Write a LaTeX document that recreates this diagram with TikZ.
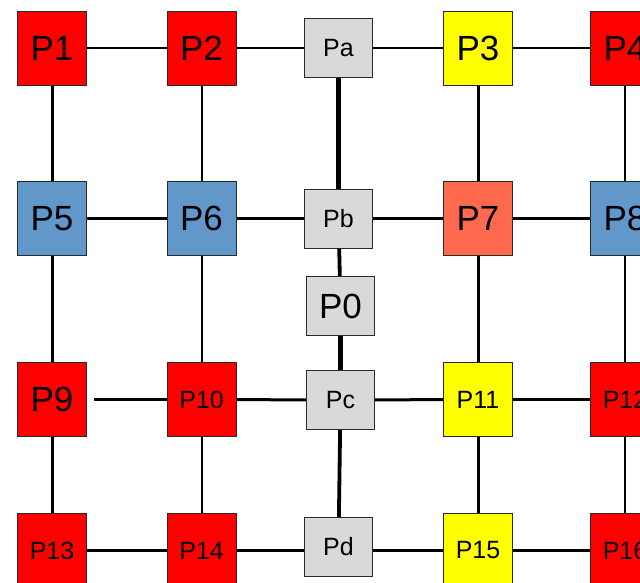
\documentclass[tikz,border=0pt]{standalone}
\usepackage{fontspec}
\setmainfont{Liberation Sans}
\definecolor{pred}{HTML}{FF0000}
\definecolor{pblue}{HTML}{6297CA}
\definecolor{pyellow}{HTML}{FFFF00}
\definecolor{psalmon}{HTML}{FF6A4E}
\definecolor{pgray}{HTML}{D9D9D9}
\definecolor{pborder}{HTML}{2A2A2A}
\tikzset{
  box/.style={draw=pborder, line width=1pt, inner sep=0pt, minimum width=69pt, minimum height=74pt, text=black},
  gbox/.style={draw=pborder, line width=1pt, inner sep=0pt, minimum width=68pt, minimum height=59pt, fill=pgray, text=black},
  big/.style={font=\fontsize{35}{40}\selectfont},
  small/.style={font=\fontsize{25}{29}\selectfont},
  thin/.style={line width=2pt},
  thick/.style={line width=3pt},
  heavy/.style={line width=4.5pt},
  heavyb/.style={line width=3.8pt},
}
\begin{document}
\begin{tikzpicture}[x={(1pt,0pt)}, y={(0pt,-1pt)}]
\useasboundingbox (0,0) rectangle (640,583);
\fill[white] (0,0) rectangle (640,583);
\clip (0,0) rectangle (640,583);
% nodes
\node[box, big, fill=pred] (P1) at (52,48.5) {P1};
\node[box, big, fill=pred] (P2) at (201.5,48.5) {P2};
\node[gbox, small] (Pa) at (338.5,48.5) {Pa};
\node[box, big, fill=pyellow] (P3) at (478,48.5) {P3};
\node[box, big, fill=pred] (P4) at (625,48.5) {P4};
\node[box, big, fill=pblue] (P5) at (52,218.5) {P5};
\node[box, big, fill=pblue] (P6) at (201.5,218.5) {P6};
\node[gbox, small] (Pb) at (338.5,218.5) {Pb};
\node[box, big, fill=psalmon] (P7) at (478,218.5) {P7};
\node[box, big, fill=pblue] (P8) at (625,218.5) {P8};
\node[gbox, big] (P0) at (340.5,306) {P0};
\node[box, big, fill=pred] (P9) at (52,399.5) {P9};
\node[box, small, fill=pred] (P10) at (201.5,399.5) {P10};
\node[gbox, small] (Pc) at (340.5,400) {Pc};
\node[box, small, fill=pyellow] (P11) at (478,399.5) {P11};
\node[box, small, fill=pred] (P12) at (625,399.5) {P12};
\node[box, small, fill=pred] (P13) at (52,550.5) {P13};
\node[box, small, fill=pred] (P14) at (201.5,550.5) {P14};
\node[gbox, small] (Pd) at (338.5,547) {Pd};
\node[box, small, fill=pyellow] (P15) at (478,550.5) {P15};
\node[box, small, fill=pred] (P16) at (625,550.5) {P16};
\coordinate (gap9) at (94,399.5);
% connectors
\draw[thin] (P1) -- (P2);
\draw[thin] (P2) -- (Pa);
\draw[thin] (Pa) -- (P3);
\draw[thin] (P3) -- (P4);
\draw[thick] (P5) -- (P6);
\draw[thick] (P6) -- (Pb);
\draw[thick] (Pb) -- (P7);
\draw[thick] (P7) -- (P8);
\draw[thick] (gap9) -- (P10);
\draw[thick] (P10) -- (Pc);
\draw[thick] (Pc) -- (P11);
\draw[thick] (P11) -- (P12);
\draw[thick] (P13) -- (P14);
\draw[thick] (P14.east) -- (P14.east -| Pd.west);
\draw[thick] (P15.west -| Pd.east) -- (P15.west);
\draw[thick] (P15) -- (P16);
\draw[thick] (P1) -- (P5);
\draw[thin] (P2) -- (P6);
\draw[heavy] (Pa) -- (Pb);
\draw[thick] (P3) -- (P7);
\draw[thin] (P4) -- (P8);
\draw[heavyb] (Pb) -- (P0);
\draw[heavy] (P0) -- (Pc);
\draw[thick] (P5) -- (P9);
\draw[thin] (P6) -- (P10);
\draw[thick] (P7) -- (P11);
\draw[thin] (P8) -- (P12);
\draw[heavyb] (Pc) -- (Pd);
\draw[thick] (P9) -- (P13);
\draw[thin] (P10) -- (P14);
\draw[thick] (P11) -- (P15);
\draw[thin] (P12) -- (P16);
\end{tikzpicture}
\end{document}
